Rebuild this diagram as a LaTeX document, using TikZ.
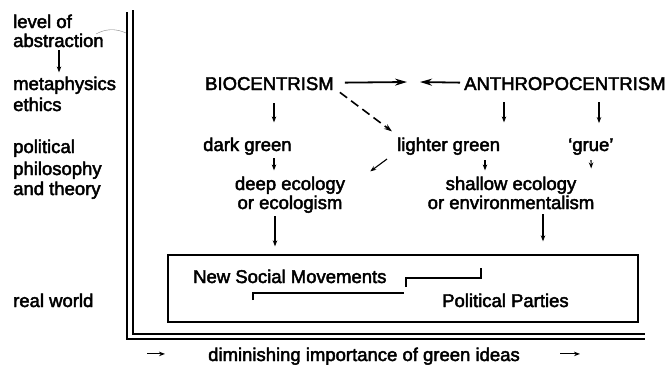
\documentclass[tikz,border=0pt]{standalone}
\usepackage{fontspec}
\setmainfont{Liberation Sans}
\usetikzlibrary{arrows.meta,calc}
\newcommand{\heavytext}{\special{pdf:literal direct 2 Tr 0.45 w}}
\begin{document}
\begin{tikzpicture}[x=1pt,y=-1pt,
  lbl/.style={inner sep=0pt, anchor=base west, font=\fontsize{18.5}{20}\selectfont\heavytext},
  clbl/.style={inner sep=0pt, anchor=base, font=\fontsize{18.5}{20}\selectfont\heavytext},
  arr/.style={line width=1.1pt, -{Stealth[length=6pt,width=4.5pt]}},
  bigarr/.style={line width=1.8pt, -{Stealth[length=12pt,width=7pt]}},
  dasharr/.style={line width=1.6pt, dash pattern=on 9pt off 5pt, -{Stealth[length=8pt,width=5.5pt]}},
  axisline/.style={line width=1.8pt},
  brack/.style={line width=1.1pt}]
\useasboundingbox (0,0) rectangle (671,364);

% left-hand labels
\node[lbl] (levA) at (13,28) {level of};
\node[lbl] (levB) at (13,47) {abstraction};
\node[lbl] (metA) at (13,90) {metaphysics};
\node[lbl] (metB) at (13,111) {ethics};
\node[lbl] (polA) at (13,153) {political};
\node[lbl] (polB) at (13,175) {philosophy};
\node[lbl] (polC) at (13,195) {and theory};
\node[lbl] (real) at (13,307) {real world};
\draw[arr] ($(levB.south west)+(46,3)$) -- ($(metA.north west)+(46,-4)$);

% axes
\coordinate (oTop) at (127,12);
\coordinate (oCorner) at (127,339);
\coordinate (oEnd) at (645,339);
\coordinate (iTop) at (133,10);
\coordinate (iCorner) at (133,334);
\coordinate (iEnd) at (645,334);
\draw[axisline] (oTop) -- (oCorner) -- (oEnd);
\draw[axisline] (iTop) -- (iCorner) -- (iEnd);
\coordinate (leadA) at (96,34);
\coordinate (leadB) at (126,33);
\draw[line width=0.4pt, gray] (leadA) .. controls (105,29) and (115,28) .. (leadB);

% main nodes
\node[lbl] (bio) at (205,90) {BIOCENTRISM};
\node[lbl] (anthro) at (464,90) {ANTHROPOCENTRISM};
\node[lbl] (dark) at (203,151) {dark green};
\node[lbl] (lighter) at (397,151) {lighter green};
\node[lbl] (grue) at (568,151) {‘grue’};
\node[clbl] (deepA) at (290,190) {deep ecology};
\node[clbl] (deepB) at (290,209) {or ecologism};
\node[clbl] (shalA) at (511,190) {shallow ecology};
\node[clbl] (shalB) at (511,209) {or environmentalism};
\node[draw, line width=1.3pt, minimum width=470pt, minimum height=67pt, inner sep=0pt] (box) at (403,288.5) {};
\node[lbl] (nsm) at (193,283) {New Social Movements};
\node[lbl] (pp) at (442,307) {Political Parties};
\node[clbl] (dim) at (364,361) {diminishing importance of green ideas};

% connectors
\coordinate (tension) at (413,82);
\draw[bigarr] ($(bio.east)+(11,-1)$) -- ($(tension)+(-6,0)$);
\draw[bigarr] ($(anthro.west)+(-4,-1)$) -- ($(tension)+(7,0)$);
\draw[arr] ($(bio.south west)+(69,13)$) -- ($(dark.north west)+(71,-15)$);
\draw[dasharr] ($(bio.south east)+(6,2)$) -- ($(lighter.north west)+(-5,-6)$);
\draw[arr] ($(anthro.south west)+(40,12)$) -- ($(lighter.north west)+(107,-15)$);
\draw[arr] ($(anthro.south west)+(135,12)$) -- ($(grue.north west)+(31,-15)$);
\draw[arr] ($(dark.south west)+(71,3)$) -- ($(deepA.north)+(-16,-6)$);
\draw[arr] ($(lighter.south west)+(88,5)$) -- ($(shalA.north)+(-26,-6)$);
\draw[arr] ($(grue.south west)+(23,5)$) -- ($(shalA.north east)+(14.7,-8)$);
\draw[arr] ($(lighter.south west)+(-10,4)$) -- ($(deepA.north east)+(25,-5)$);
\draw[arr] ($(deepB.south)+(-15,3)$) -- ($(box.north)+(-128,-8)$);
\draw[arr] ($(shalB.south)+(32,5)$) -- ($(box.north)+(140,-13)$);

% brackets
\draw[brack] (253,300) -- (253,293) -- (404,293);
\draw[brack] (406,287) -- (406,278) -- (481,278) -- (481,268);

% bottom arrows
\draw[arr] ($(dim.west)+(-61,-2.3)$) -- ($(dim.west)+(-43,-2.3)$);
\draw[arr] ($(dim.east)+(40,-2.3)$) -- ($(dim.east)+(60,-2.3)$);
\end{tikzpicture}
\end{document}
